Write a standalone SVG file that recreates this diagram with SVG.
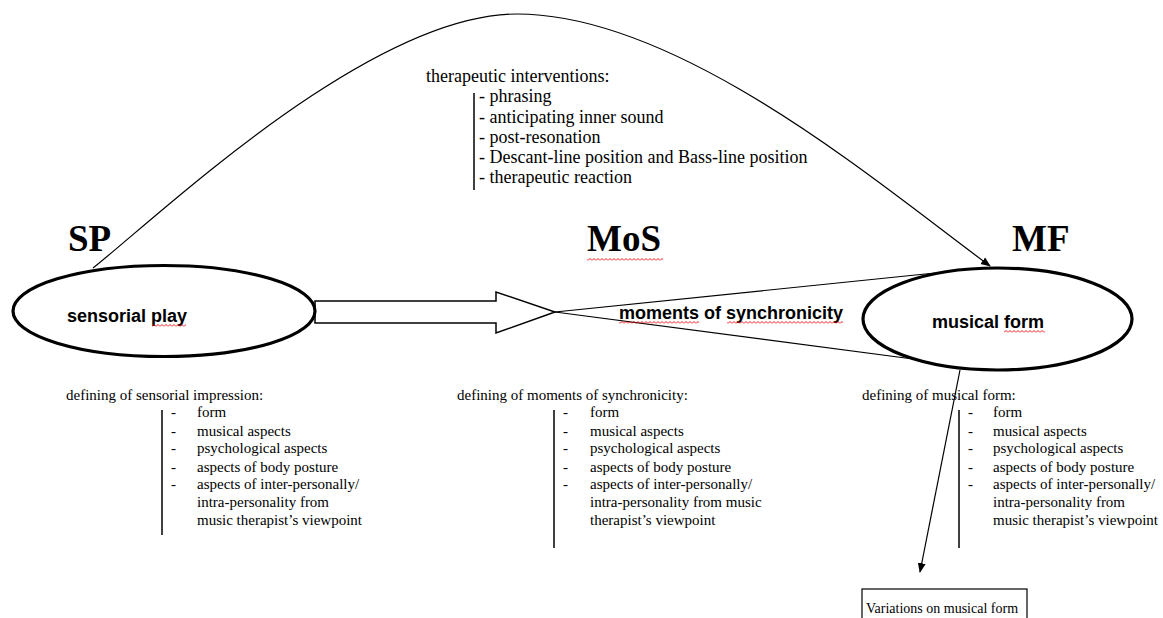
<svg xmlns="http://www.w3.org/2000/svg" width="1163" height="618" viewBox="0 0 1163 618">
<style>
.ser{font-family:"Liberation Serif","Times New Roman",serif;fill:#000}
.big{font-size:37px;font-weight:bold}
.top{font-size:18px}
.lst{font-size:15px}
.box{font-size:14px}
.sans{font-family:"Liberation Sans",Arial,sans-serif;font-weight:bold;font-size:18px;fill:#000}
.ell{fill:#fff;stroke:#000;stroke-width:3.2}
.ln{fill:none;stroke:#000;stroke-width:1.2}
.bar{stroke:#000;stroke-width:1.5}
</style>
<defs>
<marker id="ah" markerWidth="10" markerHeight="10" refX="9" refY="5" orient="auto" markerUnits="userSpaceOnUse">
<path d="M0,1 L10,5 L0,9 Z" fill="#000"/>
</marker>
<pattern id="sq" width="4" height="3" patternUnits="userSpaceOnUse">
<path d="M0,2.5 L2,0.5 L4,2.5" stroke="#e00" stroke-width="0.9" fill="none"/>
</pattern>
</defs>
<rect width="1163" height="618" fill="#fff"/>

<g id="connectors">
<path class="ln" d="M93,268 C160,215 370,14 517,14 C680,14 880,185 990,266" marker-end="url(#ah)"/>
<polygon points="315,301 496,301 496,292 555,312 496,333 496,323 315,323" fill="#fff" stroke="#000" stroke-width="1.5"/>
<line class="ln" x1="555" y1="312" x2="935" y2="273"/>
<line class="ln" x1="555" y1="312" x2="913" y2="359"/>
<line class="ln" x1="960" y1="370" x2="920" y2="572" marker-end="url(#ah)"/>
</g>

<g id="node-sp">
<text class="ser big" x="68" y="251">SP</text>
<ellipse class="ell" cx="164" cy="311" rx="151" ry="45.5"/>
<text class="sans" x="67" y="322">sensorial play</text>
<rect x="152" y="324" width="34" height="3" fill="url(#sq)"/>
</g>

<g id="node-mos">
<text class="ser big" x="587" y="251">MoS</text>
<rect x="587" y="258" width="76" height="3" fill="url(#sq)"/>
<text class="sans" x="619" y="319">moments of synchronicity</text>
<rect x="619" y="321" width="80" height="3" fill="url(#sq)"/>
<rect x="727" y="321" width="116" height="3" fill="url(#sq)"/>
</g>

<g id="node-mf">
<text class="ser big" x="1012" y="251">MF</text>
<ellipse class="ell" cx="997.5" cy="319" rx="134.5" ry="51"/>
<text class="sans" x="932" y="328">musical form</text>
<rect x="1004" y="330" width="41" height="3" fill="url(#sq)"/>
</g>

<g id="interventions">
<text class="ser top" x="426" y="82">therapeutic interventions:</text>
<line class="bar" x1="474" y1="93" x2="474" y2="190"/>
<text class="ser top" x="479" y="102">- phrasing</text>
<text class="ser top" x="479" y="123">- anticipating inner sound</text>
<text class="ser top" x="479" y="143">- post-resonation</text>
<text class="ser top" x="479" y="163">- Descant-line position and Bass-line position</text>
<text class="ser top" x="479" y="183">- therapeutic reaction</text>
</g>

<g id="defining-sp">
<text class="ser lst" x="66" y="400">defining of sensorial impression:</text>
<line class="bar" x1="162" y1="410" x2="162" y2="535"/>
<g class="ser lst">
<text x="171" y="417">-</text><text x="197" y="417">form</text>
<text x="171" y="436">-</text><text x="197" y="436">musical aspects</text>
<text x="171" y="453">-</text><text x="197" y="453">psychological aspects</text>
<text x="171" y="472">-</text><text x="197" y="472">aspects of body posture</text>
<text x="171" y="489">-</text><text x="197" y="489">aspects of inter-personally/</text>
<text x="197" y="507">intra-personality from</text>
<text x="197" y="525">music therapist’s viewpoint</text>
</g>
</g>

<g id="defining-mos">
<text class="ser lst" x="457" y="400">defining of moments of synchronicity:</text>
<line class="bar" x1="554" y1="410" x2="554" y2="548"/>
<g class="ser lst">
<text x="563" y="417">-</text><text x="590" y="417">form</text>
<text x="563" y="436">-</text><text x="590" y="436">musical aspects</text>
<text x="563" y="453">-</text><text x="590" y="453">psychological aspects</text>
<text x="563" y="472">-</text><text x="590" y="472">aspects of body posture</text>
<text x="563" y="489">-</text><text x="590" y="489">aspects of inter-personally/</text>
<text x="590" y="507">intra-personality from music</text>
<text x="590" y="525">therapist’s viewpoint</text>
</g>
</g>

<g id="defining-mf">
<text class="ser lst" x="862" y="400">defining of musical form:</text>
<line class="bar" x1="959" y1="410" x2="959" y2="548"/>
<g class="ser lst">
<text x="968" y="417">-</text><text x="993" y="417">form</text>
<text x="968" y="436">-</text><text x="993" y="436">musical aspects</text>
<text x="968" y="453">-</text><text x="993" y="453">psychological aspects</text>
<text x="968" y="472">-</text><text x="993" y="472">aspects of body posture</text>
<text x="968" y="489">-</text><text x="993" y="489">aspects of inter-personally/</text>
<text x="993" y="507">intra-personality from</text>
<text x="993" y="525">music therapist’s viewpoint</text>
</g>
</g>

<g id="node-variations">
<rect x="862" y="589" width="165" height="40" fill="#fff" stroke="#000" stroke-width="1.2"/>
<text class="ser box" x="866" y="613">Variations on musical form</text>
</g>
</svg>
